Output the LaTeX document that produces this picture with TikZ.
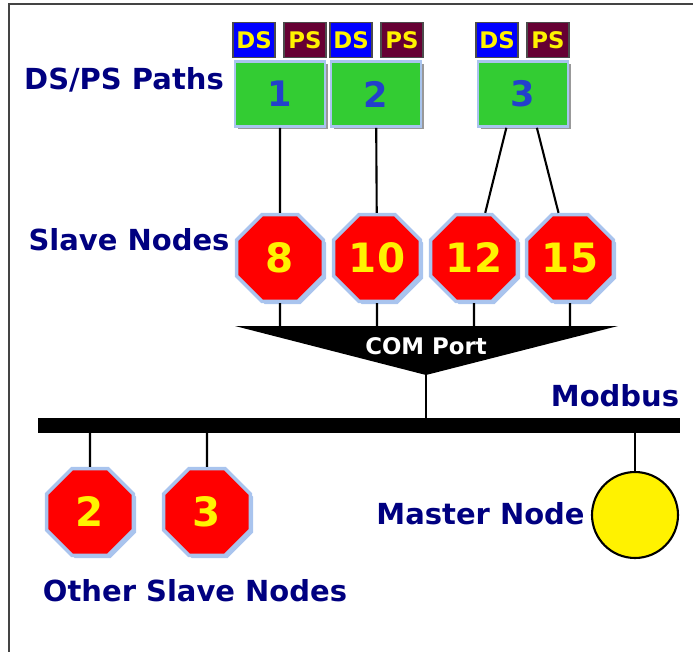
\documentclass[tikz,border=0pt]{standalone}
\usepackage{fontspec}
\setmainfont{DejaVu Sans}
\usepackage{xcolor}
\definecolor{navy}{HTML}{000080}
\definecolor{pathgreen}{HTML}{33CC33}
\definecolor{dsblue}{HTML}{0000FF}
\definecolor{psmaroon}{HTML}{660033}
\definecolor{halo}{HTML}{A9C4EE}
\definecolor{numblue}{HTML}{2340CC}
\definecolor{framegray}{HTML}{444444}
\usepackage{tikz}
\usetikzlibrary{positioning,calc,shapes.geometric,shadows}

\tikzset{
	lbl/.style={text=navy, font=\fontsize{16.5}{18}\selectfont\bfseries, inner sep=0pt},
	tag/.style={minimum width=0.84cm, minimum height=0.70cm, inner sep=0pt, draw=black!70, line width=0.6pt, text=yellow, font=\fontsize{13}{14}\selectfont\bfseries},
	dstag/.style={tag, fill=dsblue},
	pstag/.style={tag, fill=psmaroon},
	pathbox/.style={minimum width=1.80cm, minimum height=1.30cm, inner sep=0pt, fill=pathgreen, draw=halo, line width=1.5pt, drop shadow={shadow xshift=1.5pt, shadow yshift=-1.5pt, fill=black!50, opacity=.8}, text=numblue, font=\fontsize{20}{22}\selectfont\bfseries},
	slave/.style={regular polygon, regular polygon sides=8, minimum size=1.88cm, inner sep=0pt, fill=red, draw=halo, line width=2pt, drop shadow={shadow xshift=1.5pt, shadow yshift=-1.5pt, fill=halo, opacity=1}, text=yellow, font=\fontsize{23}{26}\selectfont\bfseries},
	masternode/.style={circle, minimum size=1.72cm, inner sep=0pt, fill=yellow, draw=black, line width=1.2pt},
	wire/.style={line width=1.2pt}
}

\begin{document}
\begin{tikzpicture}[x=0.02cm, y=-0.02cm]
	\useasboundingbox (0,0) rectangle (693,652);
	% frame
	\draw[line width=1.2pt, framegray] (9,652) -- (9,4) -- (693,4);
	
	% draw labels
	\node[lbl] (lpaths) at (124,80) {DS/PS Paths};
	\node[lbl] (lslaves) at (129,240) {Slave Nodes};
	\node[lbl] (lmodbus) at (615,396) {Modbus};
	\node[lbl, anchor=east] (lmaster) at (585,514) {Master Node};
	\node[lbl] (lother) at (195,591) {Other Slave Nodes};
	
	% draw DS/PS tags
	\node[dstag] (ds1) at (254,40) {DS};
	\node[pstag] (ps1) at (305,40) {PS};
	\node[dstag] (ds2) at (351,40) {DS};
	\node[pstag] (ps2) at (402,40) {PS};
	\node[dstag] (ds3) at (497,40) {DS};
	\node[pstag] (ps3) at (548,40) {PS};
	
	% draw paths
	\node[pathbox] (p1) at (280,94) {1};
	\node[pathbox] (p2) at (376,94) {2};
	\node[pathbox] (p3) at (523,94) {3};
	
	% draw slave nodes
	\node[slave] (s8) at (280,258) {8};
	\node[slave] (s10) at (377,258) {10};
	\node[slave] (s12) at (474,258) {12};
	\node[slave] (s15) at (570,258) {15};
	
	\draw[wire] (p1) -- (s8);
	\draw[wire] (p2) -- (s10);
	\draw[wire] ($(p3.south west)!0.32!(p3.south east)$) -- (s12);
	\draw[wire] ($(p3.south west)!0.65!(p3.south east)$) -- (s15);
	
	%%% COM port
	\coordinate (comL) at (235,326);
	\coordinate (comR) at (618,326);
	\coordinate (comT) at (426,375);
	\fill (comL) -- (comR) -- (comT) -- cycle;
	\node[text=white, font=\fontsize{13}{15}\selectfont\bfseries] (com) at (426,346) {COM Port};
	\foreach \s in {s8,s10,s12,s15}
		\draw[wire] (\s) -- (\s |- comL);
	
	%%% Modbus
	\coordinate (busL) at (38,418);
	\coordinate (busR) at (680,433);
	\fill (busL) rectangle (busR);
	\draw[wire] (comT) -- (comT |- busL);
	
	% other slaves and master
	\node[slave] (s2) at (90,512) {2};
	\node[slave] (s3) at (207,512) {3};
	\node[masternode] (master) at (635,515) {};
	\draw[wire] (s2) -- (s2 |- busR);
	\draw[wire] (s3) -- (s3 |- busR);
	\draw[wire] (master) -- (master |- busR);
\end{tikzpicture}
\end{document}
